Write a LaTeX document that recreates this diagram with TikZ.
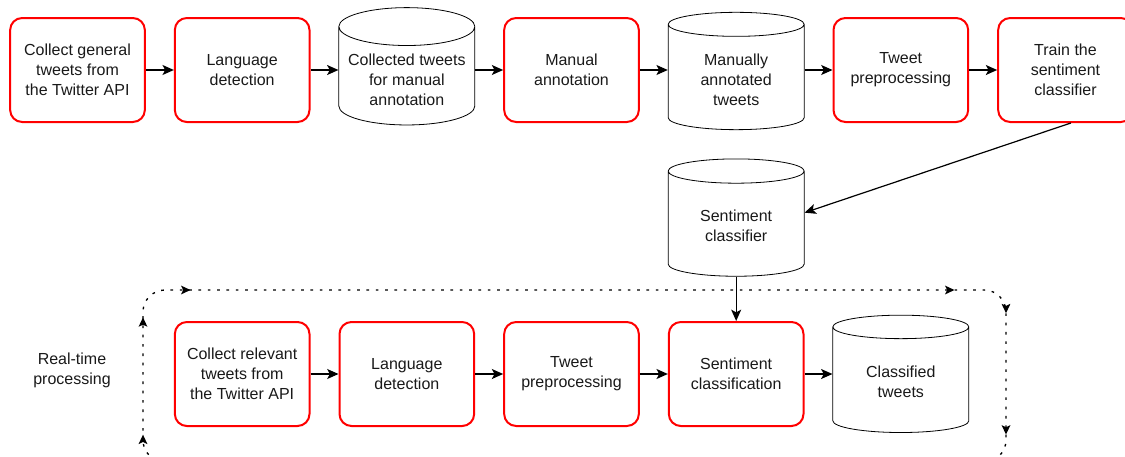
\documentclass[tikz,border=0pt]{standalone}
\usepackage{fontspec}
\setmainfont{Liberation Sans}
\usetikzlibrary{positioning, shapes.geometric, arrows.meta, decorations.markings}

\begin{document}
\begin{tikzpicture}[x=0.75pt, y=-0.75pt, node distance=123.5pt,
    >={Stealth[length=8.5pt,width=7.5pt,inset=2pt]},
    font=\fontsize{12pt}{15pt}\selectfont]
  \tikzstyle{block} = [draw=red, line width=1.5pt, rectangle, rounded corners=9pt,
    minimum height=78pt, minimum width=101pt, align=center, text=black!90]
  \tikzstyle{store} = [draw, line width=0.6pt, cylinder, shape border rotate=90, aspect=0.3,
    minimum height=88pt, minimum width=102pt, align=center, text=black!90]
  \tikzstyle{flow} = [line width=0.9pt, ->]
  \tikzstyle{loop} = [line width=1pt, dash pattern=on 2pt off 5pt, rounded corners=16.5pt,
    postaction={decorate}]
  \tikzstyle{looptip} = [Stealth[length=7pt,width=6.5pt,inset=1.5pt]]
  \useasboundingbox (0,0) rectangle (1125,457);

  % training pipeline
  \node [block] (collect) at (77.5,70) {Collect general\\tweets from\\the Twitter API};
  \node [block, right of=collect] (lang) {Language\\detection};
  \node [store, right of=lang, yshift=-7pt] (rawtw) {Collected tweets\\for manual\\annotation};
  \node [block, right of=lang, node distance=247pt] (annot) {Manual\\annotation};
  \node [store, right of=annot, yshift=-7pt] (annottw) {Manually\\annotated\\tweets};
  \node [block, right of=annot, node distance=247pt] (prep) {Tweet\\preprocessing};
  \node [block, right of=prep] (train) {Train the\\sentiment\\classifier};
  \node [store, below of=annottw, node distance=110pt] (clf) {Sentiment\\classifier};

  % real-time pipeline
  \node [block, below of=lang, node distance=228pt] (rtcollect) {Collect relevant\\tweets from\\the Twitter API};
  \node [block, right of=rtcollect] (rtlang) {Language\\detection};
  \node [block, right of=rtlang] (rtprep) {Tweet\\preprocessing};
  \node [block, right of=rtprep] (rtclass) {Sentiment\\classification};
  \node [store, right of=rtclass, yshift=-6pt] (classtw) {Classified\\tweets};
  \node [text=black!90, align=center] (rtlabel) at (72,370) {Real-time\\processing};

  \draw [flow] (collect) -- (lang);
  \draw [flow] (lang) -- (lang -| rawtw.west);
  \draw [flow] (rawtw.east |- annot) -- (annot);
  \draw [flow] (annot) -- (annot -| annottw.west);
  \draw [flow] (annottw.east |- prep) -- (prep);
  \draw [flow] (prep) -- (train);
  \draw [flow] ([xshift=4pt]train.south) -- ([yshift=10pt]clf.east);
  \draw [flow] (clf.south) -- (rtclass.north);

  \draw [flow] (rtcollect) -- (rtlang);
  \draw [flow] (rtlang) -- (rtprep);
  \draw [flow] (rtprep) -- (rtclass);
  \draw [flow] (rtclass) -- (rtclass -| classtw.west);

  % loop round the real-time part
  \coordinate (lpstart) at (143,440);
  \coordinate (lptl) at (143,290);
  \coordinate (lptr) at (1006,290);
  \coordinate (lpbr) at (1006,462);
  \coordinate (lpbl) at (143,462);
  \draw [loop, decoration={markings,
      mark=at position 4pt with {\arrow{Stealth[length=7pt,width=6.5pt,inset=1.5pt]}},
      mark=at position 92pt with {\arrow{Stealth[length=7pt,width=6.5pt,inset=1.5pt]}},
      mark=at position 141pt with {\arrow{Stealth[length=7pt,width=6.5pt,inset=1.5pt]}},
      mark=at position 714pt with {\arrow{Stealth[length=7pt,width=6.5pt,inset=1.5pt]}},
      mark=at position 763pt with {\arrow{Stealth[length=7pt,width=6.5pt,inset=1.5pt]}},
      mark=at position 854pt with {\arrow{Stealth[length=7pt,width=6.5pt,inset=1.5pt]}},
      mark=at position 906pt with {\arrow{Stealth[length=7pt,width=6.5pt,inset=1.5pt]}},
      mark=at position 1479pt with {\arrow{Stealth[length=7pt,width=6.5pt,inset=1.5pt]}}}]
    (lpstart) -- (lptl) -- (lptr) -- (lpbr) -- (lpbl) -- (lpstart);
\end{tikzpicture}
\end{document}
